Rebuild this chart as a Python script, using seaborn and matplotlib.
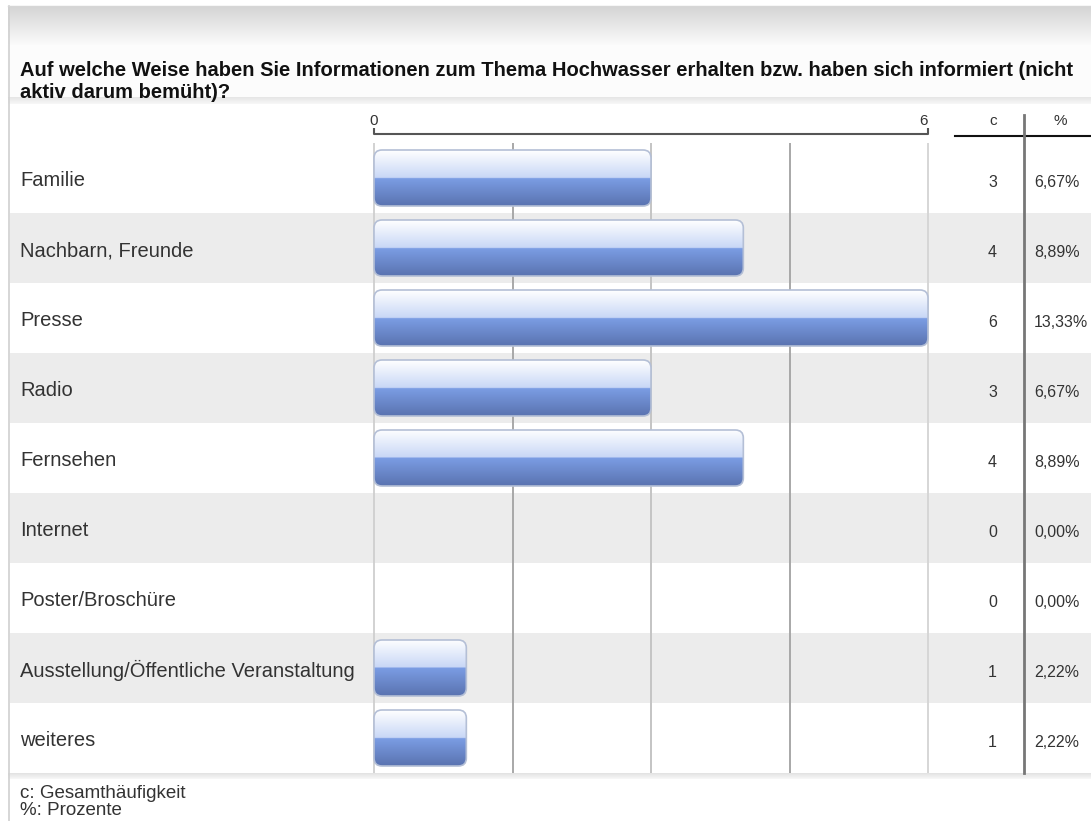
import numpy as np
import matplotlib
matplotlib.use("Agg")
import matplotlib.pyplot as plt
import seaborn as sns
from matplotlib.patches import FancyBboxPatch
from matplotlib.colors import to_rgb

# ---------------- data ----------------
categories = ["Familie", "Nachbarn, Freunde", "Presse", "Radio", "Fernsehen",
              "Internet", "Poster/Broschüre",
              "Ausstellung/Öffentliche Veranstaltung", "weiteres"]
counts = [3, 4, 6, 3, 4, 0, 0, 1, 1]
percents = ["6,67%", "8,89%", "13,33%", "6,67%", "8,89%", "0,00%", "0,00%",
            "2,22%", "2,22%"]
axis_ticks = [0, 6]
grid_ticks = [1.5, 3, 4.5, 6]
title = ("Auf welche Weise haben Sie Informationen zum Thema Hochwasser erhalten bzw. "
         "haben sich informiert (nicht\naktiv darum bemüht)?")
footer = "c: Gesamthäufigkeit\n%: Prozente"

W, H = 1091, 821
fig = plt.figure(figsize=(W / 100, H / 100), dpi=100, facecolor="white")
plt.rcParams["font.family"] = ["Liberation Sans", "DejaVu Sans"]

# ---------------- background (pixel coords) ----------------
bg = fig.add_axes([0, 0, 1, 1])
bg.set_xlim(0, W)
bg.set_ylim(H, 0)
bg.axis("off")

def vgrad(c1, c2, n=64):
    a = np.array(to_rgb(c1)); b = np.array(to_rgb(c2))
    t = np.linspace(0, 1, n)[:, None]
    return (a * (1 - t) + b * t)[:, None, :]

bg.imshow(vgrad("#d4d4d4", "#fbfbfb"), extent=(8, W, 45, 6), aspect="auto", zorder=0)
bg.fill_between([8, W], 45, 97, color="#fcfcfc", zorder=0)
bg.imshow(vgrad("#e6e6e6", "#f7f7f7", 16), extent=(8, W, 104, 97), aspect="auto", zorder=0)
bg.imshow(vgrad("#e2e2e2", "#f8f8f8", 16), extent=(8, W, 779, 773), aspect="auto", zorder=0)
bg.plot([8.5, 8.5], [6, H], color="#d0d0d0", lw=1.2, zorder=1)
bg.plot([8, W], [6, 6], color="#d6d6d6", lw=1, zorder=1)

bg.text(20, 81, title, fontsize=14.5, fontweight="bold", color="#111111",
        va="center", ha="left", linespacing=1.2)
bg.text(20, 802, footer, fontsize=13.5, color="#333333", va="center", ha="left",
        linespacing=0.95)

# ---------------- main axes (data coords) ----------------
px_per_x = (928 - 374) / 6.0
px_per_y = 70.0
def px2x(p):
    return (p - 374) / px_per_x
def py2y(p):
    return (p - 143) / px_per_y - 0.5

ax = fig.add_axes([0, 0, 1, 1], facecolor="none")
sns.barplot(x=counts, y=categories, orient="h", ax=ax, width=0.8,
            color="#6f8fd6", saturation=1, zorder=3)
bar_patches = list(ax.patches)

xl = (px2x(0), px2x(W))
yl = (py2y(H), py2y(0))
n = len(categories)

# alternating row backgrounds
for i in range(n):
    if i % 2 == 1:
        ax.axhspan(i - 0.5, i + 0.5, xmin=10 / W, xmax=1, color="#ececec",
                   lw=0, zorder=0)

# grid lines
grid_colors = {1.5: "#a8a8a8", 3: "#c4c4c4", 4.5: "#a8a8a8", 6: "#d6d6d6"}
ax.vlines([0], -0.5, n - 0.5, color="#cfcfcf", lw=1.3, zorder=1)
for g in grid_ticks:
    ax.vlines(g, -0.5, n - 0.5, color=grid_colors[g], lw=1.4, zorder=1)

# gradient rounded bars
top_grad = vgrad("#ffffff", "#c8d7f6", 50)
bot_grad = vgrad("#7b9de4", "#5a73b0", 50)
grad = np.concatenate([top_grad, bot_grad], axis=0)
rx = 8 / px_per_x
asp = (8 / px_per_y) / rx
for p in bar_patches:
    w = p.get_width()
    p.set_visible(False)
    if w <= 0:
        continue
    x0, y0, h = p.get_x(), p.get_y(), p.get_height()
    box = FancyBboxPatch((x0, y0), w, h,
                         boxstyle=f"round,pad=0,rounding_size={rx}",
                         mutation_aspect=asp, facecolor="none",
                         edgecolor="#b4bfd6", lw=1.2, zorder=4)
    ax.add_patch(box)
    im = ax.imshow(grad, extent=(x0, x0 + w, y0 + h, y0), aspect="auto",
                   zorder=3, interpolation="bilinear")
    im.set_clip_path(box)

# top bracket axis
yb, yt = py2y(134), py2y(128)
ax.plot([axis_ticks[0], axis_ticks[0], axis_ticks[1], axis_ticks[1]],
        [yt, yb, yb, yt], color="#555555", lw=1.5, zorder=5, solid_capstyle="butt")
for t in axis_ticks:
    ax.text(t, py2y(121), str(t), fontsize=11, color="#333333",
            ha="center" if t == 0 else "right", va="center")

# c / % table
ax.plot([px2x(955), px2x(W)], [py2y(136)] * 2, color="#111111", lw=1.5, zorder=5)
ax.plot([px2x(1024)] * 2, [py2y(115), n - 0.5], color="#777777", lw=2, zorder=5)
ax.text(px2x(993), py2y(121), "c", fontsize=11, color="#333333", ha="center", va="center")
ax.text(px2x(1060), py2y(121), "%", fontsize=11, color="#333333", ha="center", va="center")

for i, (cat, c, pc) in enumerate(zip(categories, counts, percents)):
    ax.text(px2x(20), i + 0.04, cat, fontsize=14.5, color="#333333", ha="left",
            va="center")
    ax.text(px2x(997), i + 0.07, str(c), fontsize=11.5, color="#333333",
            ha="right", va="center")
    ax.text(px2x(1034), i + 0.07, pc, fontsize=11.5, color="#333333",
            ha="left", va="center")

ax.set_xlim(*xl)
ax.set_ylim(yl[0], yl[1])
ax.axis("off")

fig.savefig("out.png", dpi=100, facecolor="white")
